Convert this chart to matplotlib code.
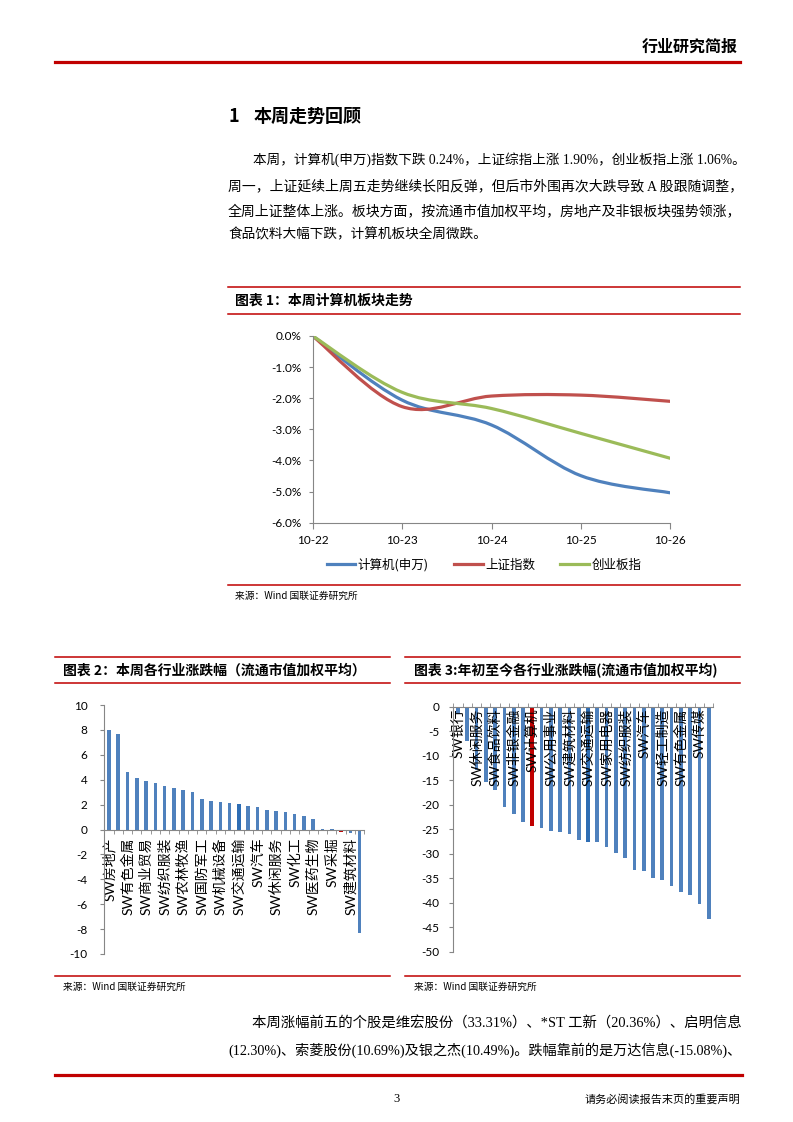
import matplotlib
matplotlib.use('Agg')
import matplotlib.pyplot as plt
from matplotlib.path import Path
from matplotlib.patches import PathPatch
from matplotlib.lines import Line2D
from matplotlib.ticker import FuncFormatter
import numpy as np

W, H = 793, 1122
CJK = ['Noto Sans CJK SC', 'DejaVu Sans']
NUM = ['Lato', 'Noto Sans CJK SC', 'DejaVu Sans']
SERIF = ['Liberation Serif', 'Noto Sans CJK SC', 'DejaVu Sans']
plt.rcParams['font.family'] = CJK
plt.rcParams['axes.unicode_minus'] = False

RED = '#C00000'
GRAY = '#868686'

# ---------------- data ----------------
dates = ['10-22', '10-23', '10-24', '10-25', '10-26']
computer = [0.0, -2.06, -2.86, -4.49, -5.04]
shanghai = [0.0, -2.27, -1.93, -1.90, -2.10]
chinext = [0.0, -1.81, -2.33, -3.13, -3.93]
series_names = ['计算机(申万)', '上证指数', '创业板指']
series_colors = ['#4F81BD', '#C0504D', '#9BBB59']

week_industries = ['SW房地产', 'SW非银金融', 'SW有色金属', '', 'SW商业贸易', '', 'SW纺织服装', '',
                   'SW农林牧渔', '', 'SW国防军工', '', 'SW机械设备', '', 'SW交通运输', '',
                   'SW汽车', '', 'SW休闲服务', '', 'SW化工', '', 'SW医药生物', '',
                   'SW采掘', 'SW计算机', 'SW建筑材料', 'SW食品饮料']
week_change = [8.0, 7.69, 4.65, 4.11, 3.87, 3.71, 3.47, 3.36, 3.15, 2.98, 2.47, 2.28, 2.20, 2.12,
               2.07, 1.85, 1.80, 1.59, 1.45, 1.40, 1.26, 1.08, 0.81, 0.03, 0.03, -0.24, -0.30, -8.28]

ytd_industries = ['SW银行', '', 'SW休闲服务', '', 'SW食品饮料', '', 'SW非银金融', '',
                  'SW计算机', '', 'SW公用事业', '', 'SW建筑材料', '', 'SW交通运输', '',
                  'SW家用电器', '', 'SW纺织服装', '', 'SW汽车', '', 'SW轻工制造', '',
                  'SW有色金属', '', 'SW传媒', '']
ytd_change = [-1.5, -7.0, -13.0, -15.3, -17.0, -20.4, -21.9, -23.5, -24.3, -24.7, -25.4, -25.5,
              -26.1, -27.2, -27.6, -27.7, -28.7, -29.9, -30.8, -33.3, -33.5, -35.0, -35.4, -36.7,
              -37.9, -38.4, -40.2, -43.3]

para1 = ['本周，计算机(申万)指数下跌 0.24%，上证综指上涨 1.90%，创业板指上涨 1.06%。',
         '周一，上证延续上周五走势继续长阳反弹，但后市外围再次大跌导致 A 股跟随调整，',
         '全周上证整体上涨。板块方面，按流通市值加权平均，房地产及非银板块强势领涨，',
         '食品饮料大幅下跌，计算机板块全周微跌。']
para2 = ['本周涨幅前五的个股是维宏股份（33.31%）、*ST 工新（20.36%）、启明信息',
         '(12.30%)、索菱股份(10.69%)及银之杰(10.49%)。跌幅靠前的是万达信息(-15.08%)、']

# ---------------- helpers ----------------
fig = plt.figure(figsize=(W / 100, H / 100), dpi=100)
fig.patch.set_facecolor('white')


def fx(x):
    return x / W


def fy(y):
    return 1 - y / H


def rect(x0, y0, x1, y1):
    return [x0 / W, 1 - y1 / H, (x1 - x0) / W, (y1 - y0) / H]


def hline(x0, x1, y, lw=1.0, color=RED):
    fig.add_artist(Line2D([fx(x0), fx(x1)], [fy(y), fy(y)], color=color, lw=lw,
                          transform=fig.transFigure))


renderer = fig.canvas.get_renderer()


def fit_text(x0, x1, y, s, base, family, lo=8.5, hi=11.5):
    t = fig.text(fx(x0), fy(y), s, fontsize=base, family=family, va='center', ha='left')
    w = t.get_window_extent(renderer).width
    fs = base * (x1 - x0) / w
    fs = max(lo, min(hi, fs))
    t.set_fontsize(fs)
    return t


def smooth_path(xs, ys):
    pts = list(zip(xs, ys))
    n = len(pts)
    verts = [pts[0]]
    codes = [Path.MOVETO]
    for i in range(n - 1):
        p0 = pts[i - 1] if i > 0 else pts[i]
        p1 = pts[i]
        p2 = pts[i + 1]
        p3 = pts[i + 2] if i + 2 < n else pts[i + 1]
        c1 = (p1[0] + (p2[0] - p0[0]) / 6, p1[1] + (p2[1] - p0[1]) / 6)
        c2 = (p2[0] - (p3[0] - p1[0]) / 6, p2[1] - (p3[1] - p1[1]) / 6)
        verts += [c1, c2, p2]
        codes += [Path.CURVE4] * 3
    return Path(verts, codes)


def style_axes(ax):
    for s in ['top', 'right']:
        ax.spines[s].set_visible(False)
    for s in ['left', 'bottom']:
        ax.spines[s].set_color(GRAY)
        ax.spines[s].set_linewidth(0.8)
    ax.patch.set_alpha(0)


# ---------------- page header ----------------
fig.text(fx(738), fy(47), '行业研究简报', ha='right', va='center', fontsize=11.5,
         weight='bold', family=CJK)
hline(55, 740, 62, lw=2.3)

# heading
fig.text(fx(228), fy(116), '1', ha='left', va='center', fontsize=13, weight='bold', family=CJK)
fig.text(fx(254), fy(116), '本周走势回顾', ha='left', va='center', fontsize=13, weight='bold',
         family=CJK)

# paragraph 1
fit_text(253, 745, 160, para1[0], 9.8, SERIF)
fit_text(228, 742, 186, para1[1], 9.8, SERIF)
fit_text(228, 742, 211, para1[2], 9.8, SERIF)
fig.text(fx(228), fy(235), para1[3], fontsize=9.8, family=SERIF, va='center', ha='left')

# ---------------- chart 1 ----------------
hline(228, 740, 286.7, lw=1.1)
hline(228, 740, 314.3, lw=1.1)
hline(228, 740, 585, lw=1.1)
fig.text(fx(235), fy(301), '图表 1：本周计算机板块走势', fontsize=10, weight='bold',
         style='italic', va='center', ha='left', family=CJK)
fig.text(fx(235), fy(596), '来源：Wind 国联证券研究所', fontsize=7, va='center', ha='left',
         family=CJK)

ax1 = fig.add_axes(rect(312.7, 336, 670.3, 522.7))
style_axes(ax1)
xs = np.arange(len(dates))
for vals, col in zip([computer, shanghai, chinext], series_colors):
    ax1.add_patch(PathPatch(smooth_path(xs, vals), fill=False, ec=col, lw=2.3,
                            capstyle='round', joinstyle='round'))
ax1.set_xlim(0, len(dates) - 1)
ax1.set_ylim(-6, 0)
ax1.set_xticks(xs)
ax1.set_xticklabels(dates)
ax1.set_yticks(np.arange(-6, 1, 1))
ax1.yaxis.set_major_formatter(FuncFormatter(lambda v, p: f'{v:.1f}%'))
ax1.tick_params(axis='y', length=3, color=GRAY, pad=5, labelsize=8.5)
ax1.tick_params(axis='x', length=4, color=GRAY, pad=5, labelsize=8.5)
for lab in ax1.get_xticklabels() + ax1.get_yticklabels():
    lab.set_family(NUM)
handles = [Line2D([], [], color=c, lw=2.3) for c in series_colors]
fig.legend(handles, series_names, loc='center', bbox_to_anchor=(fx(484), fy(565)), ncol=3,
           frameon=False, handlelength=2.3, handletextpad=0.2, columnspacing=2.0,
           prop={'family': CJK, 'size': 9})

# ---------------- chart 2 ----------------
hline(55, 390, 656.5, lw=1.1)
hline(55, 390, 683.3, lw=1.1)
hline(55, 390, 975.7, lw=1.1)
fig.text(fx(63), fy(671), '图表 2：本周各行业涨跌幅（流通市值加权平均）', fontsize=10,
         weight='bold', style='italic', va='center', ha='left', family=CJK)
fig.text(fx(63), fy(987), '来源：Wind 国联证券研究所', fontsize=7, va='center', ha='left',
         family=CJK)

ax2 = fig.add_axes(rect(104.3, 705, 364.3, 954))
ax2.spines['bottom'].set_position(('data', 0))
style_axes(ax2)
n2 = len(week_change)
x2 = np.arange(n2)
cols2 = ['#4F81BD'] * n2
cols2[week_industries.index('SW交通运输')] = '#2E6DB4'
cols2[week_industries.index('SW计算机')] = RED
ax2.bar(x2, week_change, width=0.38, color=cols2)
ax2.set_xlim(-0.5, n2 - 0.5)
ax2.set_ylim(-10, 10)
ax2.set_yticks(np.arange(-10, 11, 2))
ax2.yaxis.set_major_formatter(FuncFormatter(lambda v, p: f'{v:g}'))
lab_idx2 = list(range(0, n2, 2))
ax2.set_xticks(lab_idx2)
ax2.set_xticklabels([week_industries[i] for i in lab_idx2])
ax2.set_xticks(np.arange(-0.5, n2, 1), minor=True)
ax2.tick_params(axis='x', which='major', length=0, pad=6, labelrotation=90, labelsize=10)
ax2.tick_params(axis='x', which='minor', length=3, color=GRAY, direction='out')
ax2.tick_params(axis='y', length=3, color=GRAY, pad=9, labelsize=8.5)
for lab in ax2.get_yticklabels() + ax2.get_xticklabels():
    lab.set_family(NUM)
for lab in ax2.get_xticklabels():
    lab.set_va('top')
    lab.set_ha('center')

# ---------------- chart 3 ----------------
hline(405, 740, 656.5, lw=1.1)
hline(405, 740, 683.3, lw=1.1)
hline(405, 740, 975.7, lw=1.1)
fig.text(fx(414), fy(671), '图表 3:年初至今各行业涨跌幅(流通市值加权平均)', fontsize=10,
         weight='bold', style='italic', va='center', ha='left', family=CJK)
fig.text(fx(414), fy(987), '来源：Wind 国联证券研究所', fontsize=7, va='center', ha='left',
         family=CJK)

ax3 = fig.add_axes(rect(453.3, 706.5, 713.3, 951.7))
ax3.spines['bottom'].set_position(('data', 0))
style_axes(ax3)
n3 = len(ytd_change)
x3 = np.arange(n3)
cols3 = ['#4F81BD'] * n3
cols3[ytd_industries.index('SW交通运输')] = '#2E6DB4'
cols3[ytd_industries.index('SW计算机')] = RED
ax3.bar(x3, ytd_change, width=0.4, color=cols3, zorder=1)
ax3.set_xlim(-0.5, n3 - 0.5)
ax3.set_ylim(-50, 0)
ax3.set_yticks(np.arange(-50, 1, 5))
ax3.yaxis.set_major_formatter(FuncFormatter(lambda v, p: f'{v:g}'))
lab_idx3 = list(range(0, n3, 2))
ax3.set_xticks(lab_idx3)
ax3.set_xticklabels([ytd_industries[i] for i in lab_idx3])
ax3.set_xticks(np.arange(-0.5, n3, 1), minor=True)
ax3.tick_params(axis='x', which='major', length=0, pad=1.5, labelrotation=90, labelsize=10)
ax3.tick_params(axis='x', which='minor', length=3, color=GRAY, direction='in')
ax3.tick_params(axis='y', length=3, color=GRAY, pad=7, labelsize=8.5)
for lab in ax3.get_yticklabels() + ax3.get_xticklabels():
    lab.set_family(NUM)
for lab in ax3.get_xticklabels():
    lab.set_va('top')
    lab.set_ha('center')
    lab.set_zorder(5)

# ---------------- bottom paragraph & footer ----------------
fit_text(252, 742, 1024, para2[0], 9.8, SERIF)
fit_text(228, 742, 1050, para2[1], 9.8, SERIF)

hline(55, 742, 1075, lw=2.3)
fig.text(fx(397), fy(1099), '3', ha='center', va='center', fontsize=9, family=SERIF)
fig.text(fx(740), fy(1099), '请务必阅读报告末页的重要声明', ha='right', va='center', fontsize=8,
         family=CJK)

fig.savefig('out.png', dpi=100, facecolor='white')
